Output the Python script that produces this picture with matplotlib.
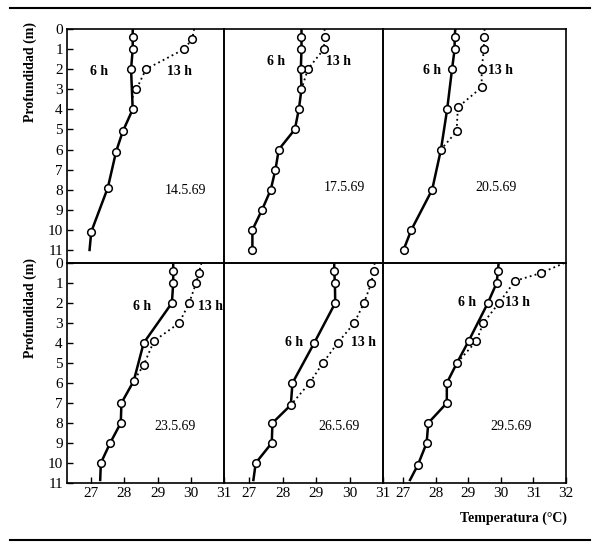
import matplotlib.pyplot as plt
from matplotlib.lines import Line2D

plt.rcParams['font.family'] = ['Liberation Serif', 'DejaVu Serif']

# temperature profiles: depth (m) and temperature (°C); first point is surface
d6_14 = [0, 0.4, 1, 2, 4, 5.1, 6.1, 7.9, 10.1, 11]
t6_14 = [28.25, 28.25, 28.25, 28.2, 28.25, 27.95, 27.75, 27.5, 27.0, 26.95]
d13_14 = [0, 0.5, 1, 2, 3, 3.4]
t13_14 = [30.1, 30.04, 29.8, 28.65, 28.36, 28.25]

d6_17 = [0, 0.4, 1, 2, 3, 4, 5, 6, 7, 8, 9, 10, 11]
t6_17 = [28.56, 28.56, 28.56, 28.54, 28.56, 28.48, 28.36, 27.88, 27.78, 27.64, 27.38, 27.09, 27.09]
d13_17 = [0, 0.4, 1, 2, 3]
t13_17 = [29.25, 29.25, 29.23, 28.75, 28.56]

d6_20 = [0, 0.4, 1, 2, 4, 6, 8, 10, 11]
t6_20 = [28.6, 28.58, 28.58, 28.5, 28.35, 28.16, 27.89, 27.25, 27.01]
d13_20 = [0, 0.4, 1, 2, 2.9, 3.9, 5.1, 6]
t13_20 = [29.5, 29.48, 29.48, 29.41, 29.41, 28.68, 28.64, 28.16]

d6_23 = [0, 0.4, 1, 2, 4, 5.9, 7, 8, 9, 10, 10.85]
t6_23 = [29.47, 29.47, 29.47, 29.43, 28.58, 28.28, 27.91, 27.89, 27.57, 27.29, 27.27]
d13_23 = [0, 0.5, 1, 2, 3, 3.9, 5.1, 5.9]
t13_23 = [30.32, 30.24, 30.16, 29.95, 29.65, 28.89, 28.58, 28.28]

d6_26 = [0, 0.4, 1, 2, 4, 6, 7.1, 8, 9, 10, 10.85]
t6_26 = [29.54, 29.54, 29.56, 29.57, 28.94, 28.29, 28.24, 27.69, 27.67, 27.19, 27.12]
d13_26 = [0, 0.4, 1, 2, 3, 4, 5, 6, 7.1]
t13_26 = [30.75, 30.72, 30.65, 30.43, 30.14, 29.64, 29.2, 28.8, 28.24]

d6_29 = [0, 0.4, 1, 2, 3.9, 5, 6, 7, 8, 9, 10.1, 10.85]
t6_29 = [29.93, 29.91, 29.87, 29.6, 29.01, 28.65, 28.34, 28.34, 27.77, 27.72, 27.45, 27.21]
d13_29 = [0, 0.5, 0.9, 2, 3, 3.9, 5]
t13_29 = [31.95, 31.23, 30.43, 29.94, 29.46, 29.25, 28.65]

dates = ["14.5.69", "17.5.69", "20.5.69", "23.5.69", "26.5.69", "29.5.69"]
depth_ticks = list(range(0, 12))
temp_ticks_a = [27, 28, 29, 30, 31]
temp_ticks_b = [27, 28, 29, 30, 31, 32]

fig = plt.figure(figsize=(6, 5.49), dpi=100)
W, H = 600, 549

# panel edges in pixels
xs = [67, 224, 383, 566]
rows = [(29, 263), (263, 483)]
xlims = [(26.27, 31.0), (26.24, 31.0), (26.38, 32.0)]
ylims = [(11.65, 0), (11, 0)]

panels = [
    (d6_14, t6_14, d13_14, t13_14, True, (27.24, 2.14), (29.67, 2.14), (29.83, 8.06)),
    (d6_17, t6_17, d13_17, t13_17, False, (27.79, 1.64), (29.68, 1.64), (29.84, 7.9)),
    (d6_20, t6_20, d13_20, t13_20, False, (27.89, 2.07), (30.0, 2.07), (29.84, 7.9)),
    (d6_23, t6_23, d13_23, t13_23, True, (28.53, 2.2), (30.6, 2.2), (29.53, 8.2)),
    (d6_26, t6_26, d13_26, t13_26, True, (28.33, 4.0), (30.43, 4.0), (29.69, 8.2)),
    (d6_29, t6_29, d13_29, t13_29, True, (28.96, 1.98), (30.51, 1.98), (30.3, 8.2)),
]

for i, (d6, t6, d13, t13, ext, p6, p13, pdate) in enumerate(panels):
    r, c = divmod(i, 3)
    y0, y1 = rows[r]
    ax = fig.add_axes([xs[c] / W, 1 - y1 / H, (xs[c + 1] - xs[c]) / W, (y1 - y0) / H])
    ax.set_facecolor('none')
    ax.plot(t13, d13, color='black', lw=1.3, ls=(0, (1, 1.8)),
            marker='o', ms=5.5, mfc='white', mec='black', mew=1.1,
            markevery=slice(1, len(d13) - 1), zorder=2)
    ax.plot(t6, d6, color='black', lw=1.8,
            marker='o', ms=5.5, mfc='white', mec='black', mew=1.1,
            markevery=slice(1, len(d6) - 1 if ext else len(d6)), zorder=3)
    ax.set_xlim(*xlims[c])
    ax.set_ylim(*ylims[r])
    ax.text(*p6, "6 h", ha='center', va='center', fontsize=10, fontweight='bold')
    ax.text(*p13, "13 h", ha='center', va='center', fontsize=10, fontweight='bold')
    ax.text(*pdate, dates[i], ha='center', va='center', fontsize=10)
    for s in ax.spines.values():
        s.set_linewidth(1.2)
    ax.tick_params(direction='in', length=4, width=1, labelsize=11, pad=3)
    if c == 0:
        ax.set_yticks(depth_ticks)
    else:
        ax.set_yticks([])
    if r == 1:
        ax.set_xticks(temp_ticks_b if c == 2 else temp_ticks_a)
    else:
        ax.set_xticks([])

fig.text(30 / W, 1 - 71.5 / H, "Profundidad (m)", rotation=90, ha='center', va='center',
         fontsize=10, fontweight='bold')
fig.text(30 / W, 1 - 308 / H, "Profundidad (m)", rotation=90, ha='center', va='center',
         fontsize=10, fontweight='bold')
fig.text(567 / W, 1 - 518 / H, "Temperatura (°C)", ha='right', va='center',
         fontsize=10, fontweight='bold')

# horizontal rules above and below the figure
fig.add_artist(Line2D([10 / W, 590 / W], [1 - 8 / H, 1 - 8 / H], color='black', lw=1.5))
fig.add_artist(Line2D([10 / W, 590 / W], [1 - 540 / H, 1 - 540 / H], color='black', lw=1.5))

fig.savefig("out.png", dpi=100)
